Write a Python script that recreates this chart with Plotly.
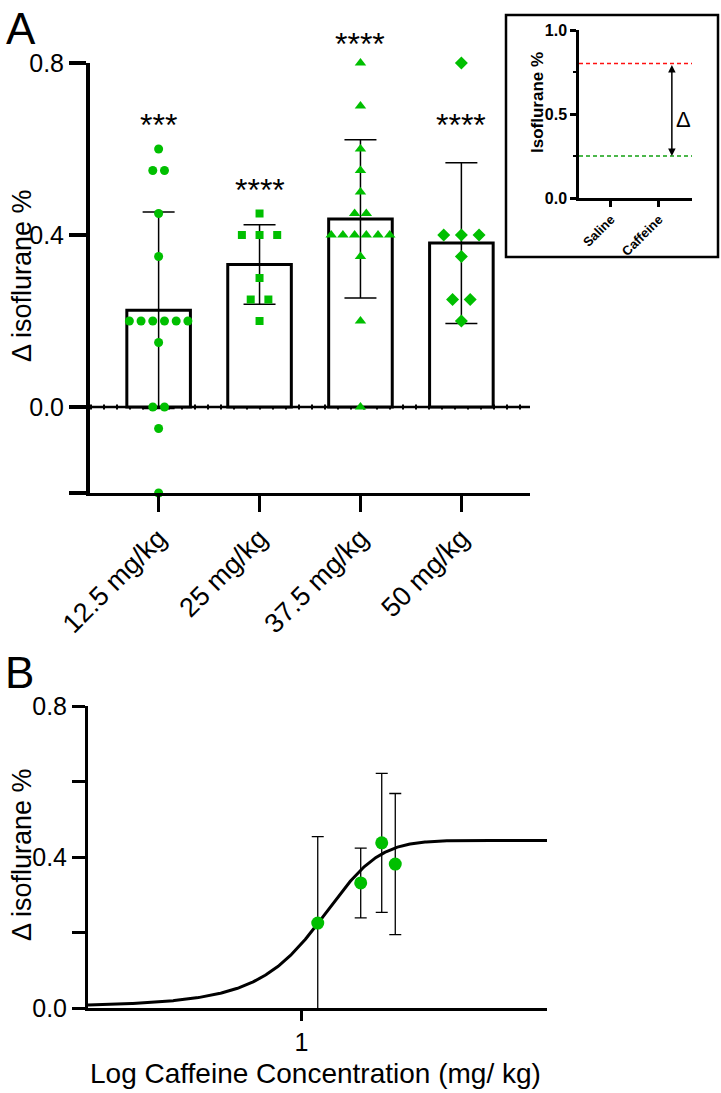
import numpy as np
import plotly.graph_objects as go

# ---------------- data ----------------
categories = ["12.5 mg/kg", "25 mg/kg", "37.5 mg/kg", "50 mg/kg"]
doses = [12.5, 25, 37.5, 50]
g_12_5 = [0.6, 0.55, 0.55, 0.45, 0.35, 0.2, 0.2, 0.2, 0.2, 0.2, 0.2, 0.15, 0.0, 0.0, -0.05, -0.2]
g_25 = [0.45, 0.4, 0.4, 0.4, 0.3, 0.25, 0.25, 0.2]
g_37_5 = [0.8, 0.7, 0.6, 0.55, 0.5, 0.45, 0.45, 0.4, 0.4, 0.4, 0.4, 0.4, 0.4, 0.35, 0.2, 0.0]
g_50 = [0.8, 0.4, 0.4, 0.4, 0.35, 0.25, 0.25, 0.2]
groups = [g_12_5, g_25, g_37_5, g_50]
sig_labels = ["***", "****", "****", "****"]
sig_y = [0.655, 0.505, 0.845, 0.655]

# inset (schematic)
inset_cats = ["Saline", "Caffeine"]
inset_saline_level = 0.8
inset_caffeine_level = 0.25

# fitted dose-response (log dose) parameters
fit_bottom = 0.0
fit_top = 0.444
fit_logec50 = 1.095
fit_hill = 2.2

# ---------------- styles ----------------
GREEN = "#00BF00"
FONT = "Arial, Liberation Sans, sans-serif"
symbols = ["circle", "square", "triangle-up", "diamond"]
msizes = [9, 8, 10, 10]
spread = [0.116, 0.175, 0.116, 0.175]

W, H = 721, 1093
def px(x):
    return x / W
def py(y):
    return 1 - y / H

YA_DOM = [py(493), py(63)]
YA_RANGE = [-0.2, 0.8]
def ya_paper(v):
    return YA_DOM[0] + (v - YA_RANGE[0]) / (YA_RANGE[1] - YA_RANGE[0]) * (YA_DOM[1] - YA_DOM[0])

means = [float(np.mean(g)) for g in groups]
sds = [float(np.std(g, ddof=1)) for g in groups]
xpos = list(range(len(categories)))

fig = go.Figure()

# bars with SD
fig.add_trace(go.Bar(
    x=xpos, y=means, width=0.63,
    marker=dict(color="white", line=dict(color="black", width=3)),
    error_y=dict(type="data", array=sds, color="black", thickness=1.5, width=16),
    xaxis="x", yaxis="y", showlegend=False,
))

# individual points, beeswarm-like spread of tied values
for gi, g in enumerate(groups):
    xs, ys = [], []
    vals = sorted(set(g), reverse=True)
    for v in vals:
        n = g.count(v)
        for k in range(n):
            xs.append(gi + (k - (n - 1) / 2) * spread[gi])
            ys.append(v)
    fig.add_trace(go.Scatter(
        x=xs, y=ys, mode="markers", cliponaxis=False,
        marker=dict(symbol=symbols[gi], size=msizes[gi], color=GREEN, line=dict(width=0)),
        xaxis="x", yaxis="y", showlegend=False,
    ))

# significance labels
for gi, lab in enumerate(sig_labels):
    fig.add_annotation(x=gi, y=ya_paper(sig_y[gi]), xref="x", yref="paper", text=lab, showarrow=False,
                       font=dict(family=FONT, size=32, color="black"),
                       xanchor="center", yanchor="middle")

# ---------------- panel B ----------------
logd = [float(np.log10(d)) for d in doses]
xc = np.logspace(np.log10(0.3), np.log10(4), 400)
yc = fit_bottom + (fit_top - fit_bottom) / (1 + 10 ** ((fit_logec50 - xc) * fit_hill))
fig.add_trace(go.Scatter(x=xc, y=yc, mode="lines", line=dict(color="black", width=3),
                         xaxis="x2", yaxis="y2", showlegend=False))
fig.add_trace(go.Scatter(
    x=logd, y=means, mode="markers",
    marker=dict(symbol="circle", size=13, color=GREEN, line=dict(width=0)),
    error_y=dict(type="data", array=sds, color="black", thickness=1.3, width=6),
    xaxis="x2", yaxis="y2", showlegend=False,
))

# inset dummy trace (to register axes)
fig.add_trace(go.Scatter(x=[0, 1], y=[None, None], mode="markers", xaxis="x3", yaxis="y3",
                         showlegend=False, hoverinfo="skip"))

fig.update_layout(
    width=W, height=H, margin=dict(l=0, r=0, t=0, b=0, autoexpand=False),
    paper_bgcolor="white", plot_bgcolor="white", showlegend=False,
    font=dict(family=FONT, color="black"),
    xaxis=dict(domain=[px(90), px(530)], range=[-0.68, 3.68], anchor="y", automargin=False,
               showline=True, linecolor="black", linewidth=2.5, showgrid=False, zeroline=False,
               ticks="outside", ticklen=16, tickwidth=2.5, tickcolor="black",
               tickvals=xpos, ticktext=categories, tickangle=-45,
               tickfont=dict(family=FONT, size=27, color="black")),
    yaxis=dict(domain=YA_DOM, range=YA_RANGE, anchor="x", automargin=False,
               showline=True, linecolor="black", linewidth=4, showgrid=False, zeroline=False,
               ticks="outside", ticklen=17, tickwidth=4, tickcolor="black",
               tickvals=[-0.2, 0, 0.4, 0.8], ticktext=["", "0.0", "0.4", "0.8"],
               tickfont=dict(family=FONT, size=25, color="black")),
    xaxis2=dict(domain=[px(88), px(547)], type="log", range=[np.log10(0.3), np.log10(4)], anchor="y2",
                automargin=False,
                showline=True, linecolor="black", linewidth=3, showgrid=False, zeroline=False,
                ticks="outside", ticklen=10, tickwidth=3, tickcolor="black",
                tickvals=[1], ticktext=["1"],
                tickfont=dict(family=FONT, size=25, color="black")),
    yaxis2=dict(domain=[py(1008), py(706)], range=[0, 0.8], anchor="x2", automargin=False,
                showline=True, linecolor="black", linewidth=3, showgrid=False, zeroline=False,
                ticks="outside", ticklen=13, tickwidth=3, tickcolor="black",
                tickvals=[0, 0.2, 0.4, 0.6, 0.8], ticktext=["0.0", "", "0.4", "", "0.8"],
                tickfont=dict(family=FONT, size=25, color="black")),
    xaxis3=dict(domain=[px(579), px(692)], range=[-0.667, 1.69], anchor="y3", automargin=False,
                showline=True, linecolor="black", linewidth=2.5, showgrid=False, zeroline=False,
                ticks="outside", ticklen=6, tickwidth=2.5, tickcolor="black",
                tickvals=[0, 1], ticktext=inset_cats, tickangle=-45,
                tickfont=dict(family=FONT, size=13, color="black", weight="bold")),
    yaxis3=dict(domain=[py(198), py(30)], range=[0, 1], anchor="x3", automargin=False,
                showline=True, linecolor="black", linewidth=2.5, showgrid=False, zeroline=False,
                ticks="outside", ticklen=6, tickwidth=2.5, tickcolor="black",
                tickvals=[0, 0.5, 1.0], ticktext=["0.0", "0.5", "1.0"],
                minor=dict(tickvals=[0.25, 0.75], ticks="outside", ticklen=3, tickwidth=1.5, tickcolor="black"),
                tickfont=dict(family=FONT, size=16, color="black", weight="bold")),
)

shapes = [
    # zero line panel A
    dict(type="line", xref="x domain", yref="y", x0=0, x1=1, y0=0, y1=0,
         line=dict(color="black", width=2.5), layer="below"),
    dict(type="line", xref="x domain", yref="y", x0=0, x1=1, y0=0, y1=0,
         line=dict(color="black", width=5, dash="2px,11px"), layer="below"),
    # inset box
    dict(type="rect", xref="paper", yref="paper", x0=px(506), x1=px(718), y0=py(257), y1=py(15),
         line=dict(color="black", width=2.5), fillcolor="rgba(0,0,0,0)"),
    # inset levels
    dict(type="line", xref="x3 domain", yref="y3", x0=0, x1=1, y0=inset_saline_level, y1=inset_saline_level,
         line=dict(color="#FF1010", width=1.5, dash="4px,3px")),
    dict(type="line", xref="x3 domain", yref="y3", x0=0, x1=1, y0=inset_caffeine_level, y1=inset_caffeine_level,
         line=dict(color="#10A010", width=1.5, dash="4px,3px")),
]
fig.update_layout(shapes=shapes)

def note(x, y, text, size, angle=0):
    fig.add_annotation(x=px(x), y=py(y), xref="paper", yref="paper", text=text, textangle=angle,
                       showarrow=False, xanchor="center", yanchor="middle",
                       font=dict(family=FONT, size=size, color="black"))

# inset arrow and delta
fig.add_annotation(x=1.27, y=inset_caffeine_level, xref="x3", yref="y3",
                   ax=1.27, ay=inset_saline_level, axref="x3", ayref="y3",
                   text="", showarrow=True, arrowhead=2, arrowside="end+start",
                   arrowsize=1, arrowwidth=1.5, arrowcolor="black", standoff=0, startstandoff=0)
fig.add_annotation(x=1.52, y=0.47, xref="x3", yref="y3", text="Δ", showarrow=False,
                   xanchor="center", yanchor="middle",
                   font=dict(family=FONT, size=22, color="black"))
note(538, 103, "<b>Isoflurane %</b>", 17, -90)

# axis titles & panel letters
note(22, 276, "Δ isoflurane %", 27, -90)
note(22, 855, "Δ isoflurane %", 27, -90)
note(315, 1073, "Log Caffeine Concentration (mg/ kg)", 28)
note(21, 29, "A", 44)
note(19, 672, "B", 44)

fig.write_html("out.html", config={"displayModeBar": False},
               post_script="document.body.style.margin='0';")
